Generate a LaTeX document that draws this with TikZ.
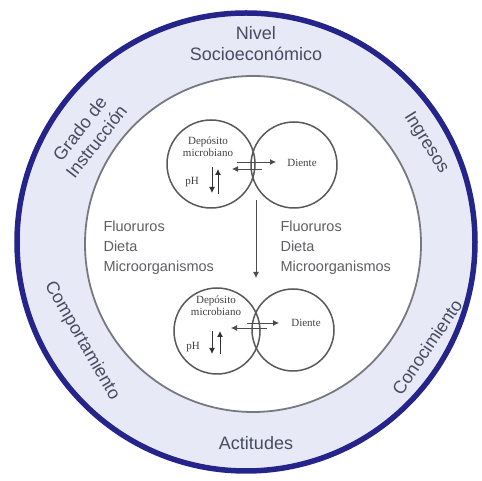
\documentclass[tikz,border=0pt]{standalone}
\usepackage{fontspec}
\setmainfont{Liberation Sans}
\newfontfamily\serifsm{Liberation Serif}
\usepackage{tikz}
\usetikzlibrary{arrows.meta,positioning}
\definecolor{ringblue}{RGB}{36,36,138}
\definecolor{ringfill}{RGB}{232,233,246}
\definecolor{coregray}{RGB}{120,120,128}
\definecolor{txtgray}{RGB}{72,76,96}
\definecolor{midgray}{RGB}{95,95,100}
\tikzset{
  ring/.style={circle, draw=ringblue, line width=5.5pt, fill=ringfill, inner sep=0pt},
  core/.style={circle, draw=coregray, line width=1.8pt, fill=white, inner sep=0pt},
  cir/.style={circle, draw=black!65, line width=1.5pt, inner sep=0pt},
  rlab/.style={font=\fontsize{18}{21}\selectfont, text=txtgray, align=center},
  mlab/.style={font=\fontsize{14.5}{20}\selectfont, text=midgray, align=left, anchor=west},
  slab/.style={font=\serifsm\fontsize{11}{12}\selectfont, text=black!75, align=center, inner sep=1pt},
  harr/.style={-{Latex[length=6pt,width=6pt]}, black!70, line width=0.8pt},
  varr/.style={-{Latex[length=6pt,width=6pt]}, black!80, line width=0.9pt},
}

\begin{document}
\begin{tikzpicture}[x=1pt,y=1pt]
\useasboundingbox (0,0) rectangle (482,481);
\node[ring, minimum size=458pt] (outer) at (246,239) {};
\node[core, minimum size=336pt] (inner) at (253,237) {};

\node[rlab] (nivel) at (256,437) {Nivel\\Socioeconómico};
\node[rlab] (actitudes) at (256,38) {Actitudes};
\node[rlab, rotate=52] (grado) at (88,346) {Grado de\\Instrucción};
\node[rlab, rotate=-58] (ingresos) at (426,338) {Ingresos};
\node[rlab, rotate=56] (conoc) at (427,134) {Conocimiento};
\node[rlab, rotate=-60] (comport) at (82,140) {Comportamiento};

\node[cir, minimum size=88pt] (dep1) at (211,317) {};
\node[cir, minimum size=86pt] (die1) at (294,316) {};
\node[slab] (deptxt1) at (208,334) {Depósito\\microbiano};
\node[slab] (dientetxt1) at (302,318) {Diente};
\node[slab] (ph1) at (192,299) {pH};
\coordinate (ru1a) at (237,319); \coordinate (ru1b) at (276,319);
\coordinate (lu1a) at (262,312); \coordinate (lu1b) at (232,312);
\coordinate (up1a) at (218,287); \coordinate (up1b) at (218,312);
\coordinate (dn1a) at (212,314); \coordinate (dn1b) at (212,288);
\draw[harr] (ru1a) -- (ru1b);
\draw[harr] (lu1a) -- (lu1b);
\draw[varr] (up1a) -- (up1b);
\draw[varr] (dn1a) -- (dn1b);

\node[mlab] (factL) at (100,233) {Fluoruros\\Dieta\\Microorganismos};
\node[mlab] (factR) at (277,233) {Fluoruros\\Dieta\\Microorganismos};
\coordinate (paso1) at (256,281);
\coordinate (paso2) at (256,203);
\draw[harr] (paso1) -- (paso2);

\node[cir, minimum size=86pt] (dep2) at (217,150) {};
\node[cir, minimum size=82pt] (die2) at (293,151) {};
\node[slab] (deptxt2) at (216,175) {Depósito\\microbiano};
\node[slab] (dientetxt2) at (306,158) {Diente};
\node[slab] (ph2) at (193,134) {pH};
\coordinate (ru2a) at (247,158); \coordinate (ru2b) at (279,158);
\coordinate (lu2a) at (267,153); \coordinate (lu2b) at (231,153);
\coordinate (up2a) at (220,127); \coordinate (up2b) at (220,150);
\coordinate (dn2a) at (212,150); \coordinate (dn2b) at (212,127);
\draw[harr] (ru2a) -- (ru2b);
\draw[harr] (lu2a) -- (lu2b);
\draw[varr] (up2a) -- (up2b);
\draw[varr] (dn2a) -- (dn2b);
\end{tikzpicture}
\end{document}
